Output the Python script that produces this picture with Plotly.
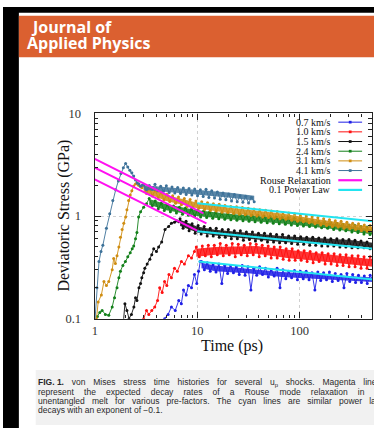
import numpy as np
import plotly.graph_objects as go

W, H = 374, 435

# ---------------- data ----------------
labels = ["0.7 km/s", "1.0 km/s", "1.5 km/s", "2.4 km/s", "3.1 km/s", "4.1 km/s"]
colors = ["#1f1fe6", "#ff1010", "#111111", "#13801a", "#cf8d12", "#3d7299"]

# early (rise) parts: explicit time / stress pairs
t07_rise = [4.6, 4.8, 5.2, 5.6, 6.1, 6.6, 7.0, 7.35, 7.8, 8.2, 8.8, 9.4, 9.9, 10.3, 10.7]
v07_rise = [0.09, 0.1, 0.11, 0.13, 0.12, 0.15, 0.14, 0.19, 0.17, 0.21, 0.2, 0.27, 0.22, 0.29, 0.36]
t10_rise = [2.9, 3.0, 3.2, 3.37, 3.6, 3.85, 4.1, 4.3, 4.55, 4.8, 5.05, 5.3, 5.6, 6.0, 6.4, 7.0, 7.5, 8.2, 8.8, 9.4]
v10_rise = [0.09, 0.1, 0.12, 0.11, 0.12, 0.13, 0.15, 0.2, 0.18, 0.23, 0.21, 0.27, 0.25, 0.31, 0.29, 0.36, 0.34, 0.41, 0.39, 0.45]
t15_rise = [1.9, 1.97, 2.06, 2.16, 2.28, 2.41, 2.5, 2.58, 2.7, 2.8, 2.88, 3.0, 3.08, 3.25, 3.45, 3.6,
            3.76, 4.0, 4.2, 4.5, 4.85, 5.26, 5.6, 6.0, 6.3, 6.6]
v15_rise = [0.09, 0.14, 0.12, 0.1, 0.11, 0.13, 0.16, 0.15, 0.2, 0.22, 0.25, 0.28, 0.31, 0.34, 0.38, 0.42,
            0.48, 0.45, 0.5, 0.56, 0.74, 0.79, 0.85, 0.87, 0.9, 0.88]
t24_rise = [1.0, 1.06, 1.12, 1.18, 1.27, 1.37, 1.48, 1.56, 1.65, 1.72, 1.78, 1.88, 1.99, 2.1, 2.22, 2.32,
            2.4, 2.5, 2.58, 2.68, 2.8, 3.0, 3.2]
v24_rise = [0.09, 0.105, 0.115, 0.12, 0.11, 0.108, 0.13, 0.16, 0.2, 0.25, 0.29, 0.33, 0.36, 0.4, 0.44, 0.48,
            0.51, 0.6, 0.69, 0.98, 1.1, 1.22, 1.32]
t31_rise = [1.0, 1.04, 1.08, 1.16, 1.23, 1.3, 1.37, 1.48, 1.53, 1.59, 1.65, 1.72, 1.78, 1.85, 1.92, 2.0,
            2.06, 2.14, 2.22, 2.3, 2.4, 2.5, 2.58, 2.68, 2.78, 2.88]
v31_rise = [0.08, 0.10, 0.145, 0.17, 0.23, 0.21, 0.23, 0.3, 0.385, 0.345, 0.41, 0.5, 0.62, 0.74, 0.85, 0.98,
            1.15, 1.42, 1.6, 1.76, 1.96, 2.05, 2.1, 2.0, 1.95, 1.89]
t41_rise = [1.0, 1.05, 1.1, 1.15, 1.2, 1.3, 1.4, 1.5, 1.6, 1.7, 1.8, 1.9, 2.0, 2.1, 2.2, 2.3, 2.4, 2.5,
            2.6, 2.7, 2.8, 2.9]
v41_rise = [0.09, 0.2, 0.36, 0.45, 0.52, 0.76, 1.05, 1.42, 1.8, 2.2, 2.6, 2.95, 3.25, 3.0, 2.8, 2.65,
            2.45, 2.25, 2.1, 2.05, 1.95, 2.0]

# later noisy bands: (first time, last time) of an evenly log-spaced sampling, and the values read
band_span = {"0.7": (11.0, 520.0), "1.0": (9.8, 520.0), "1.5": (6.8, 520.0),
             "2.4": (3.4, 520.0), "3.1": (3.0, 520.0), "4.1": (3.0, 36.0)}
v07_band = [0.36, 0.30, 0.35, 0.29, 0.34, 0.285, 0.34, 0.22, 0.33, 0.275, 0.33, 0.28, 0.32, 0.27, 0.33,
            0.265, 0.32, 0.19, 0.31, 0.265, 0.32, 0.27, 0.31, 0.255, 0.30, 0.26, 0.31, 0.20, 0.30, 0.245,
            0.29, 0.25, 0.295, 0.24, 0.29, 0.245, 0.29, 0.24, 0.28, 0.19, 0.285, 0.235, 0.28, 0.24,
            0.285, 0.23, 0.275, 0.235, 0.27, 0.20, 0.275, 0.23, 0.27, 0.225, 0.265, 0.225, 0.26, 0.22,
            0.265, 0.24]
v10_band = [0.50, 0.40, 0.51, 0.41, 0.52, 0.40, 0.52, 0.42, 0.54, 0.41, 0.52, 0.42, 0.54, 0.40, 0.53,
            0.42, 0.52, 0.41, 0.54, 0.42, 0.53, 0.40, 0.52, 0.41, 0.51, 0.39, 0.50, 0.39, 0.50, 0.38,
            0.48, 0.37, 0.48, 0.37, 0.46, 0.37, 0.46, 0.36, 0.45, 0.35, 0.44, 0.36, 0.44, 0.34, 0.43,
            0.34, 0.43, 0.33, 0.42, 0.33, 0.42, 0.32, 0.41, 0.32, 0.41, 0.31, 0.40, 0.31, 0.40, 0.35]
v15_band = [0.94, 0.76, 0.89, 0.72, 0.84, 0.68, 0.81, 0.67, 0.79, 0.64, 0.76, 0.64, 0.76, 0.62, 0.74,
            0.62, 0.74, 0.60, 0.72, 0.60, 0.72, 0.58, 0.70, 0.59, 0.70, 0.57, 0.68, 0.58, 0.68, 0.56,
            0.67, 0.56, 0.66, 0.55, 0.66, 0.55, 0.64, 0.54, 0.64, 0.53, 0.63, 0.53, 0.62, 0.52, 0.62,
            0.52, 0.61, 0.51, 0.61, 0.51, 0.60, 0.51, 0.60, 0.50, 0.59, 0.50, 0.59, 0.49, 0.58, 0.49,
            0.57, 0.49, 0.56, 0.48, 0.52]
v24_band = [1.48, 1.26, 1.40, 1.18, 1.33, 1.13, 1.29, 1.10, 1.25, 1.07, 1.22, 1.04, 1.20, 1.02, 1.17,
            1.00, 1.14, 0.98, 1.12, 0.97, 1.10, 0.95, 1.09, 0.94, 1.07, 0.93, 1.06, 0.92, 1.05, 0.91,
            1.04, 0.90, 1.03, 0.89, 1.02, 0.88, 1.01, 0.87, 1.00, 0.86, 0.99, 0.85, 0.98, 0.84, 0.97,
            0.83, 0.96, 0.82, 0.95, 0.81, 0.94, 0.80, 0.92, 0.79, 0.91, 0.78, 0.89, 0.77, 0.88, 0.76,
            0.86, 0.74, 0.85, 0.73, 0.83, 0.72, 0.82, 0.70, 0.81, 0.69, 0.79, 0.67, 0.78, 0.66, 0.71]
v31_band = [2.00, 1.66, 1.88, 1.57, 1.79, 1.50, 1.72, 1.43, 1.63, 1.39, 1.58, 1.33, 1.53, 1.29, 1.48,
            1.24, 1.45, 1.21, 1.40, 1.19, 1.38, 1.16, 1.35, 1.13, 1.32, 1.12, 1.30, 1.09, 1.27, 1.08,
            1.24, 1.06, 1.23, 1.04, 1.21, 1.03, 1.19, 1.01, 1.17, 1.00, 1.15, 0.98, 1.14, 0.97, 1.12,
            0.95, 1.11, 0.94, 1.08, 0.93, 1.07, 0.91, 1.05, 0.89, 1.03, 0.88, 1.00, 0.86, 0.98, 0.84,
            0.96, 0.82, 0.94, 0.81, 0.92, 0.79, 0.90, 0.78, 0.89, 0.76, 0.87, 0.75, 0.85, 0.74, 0.84,
            0.72, 0.82, 0.71, 0.81, 0.70]
v41_band = [2.02, 1.80, 1.98, 1.82, 2.04, 1.76, 1.95, 1.74, 1.97, 1.70, 1.92, 1.68, 1.90, 1.66, 1.88,
            1.62, 1.86, 1.60, 1.84, 1.58, 1.80, 1.55, 1.82, 1.52, 1.76, 1.50, 1.72, 1.46, 1.68, 1.44,
            1.64, 1.40, 1.62, 1.38, 1.58, 1.36, 1.56, 1.34, 1.52, 1.38]

# dense core of each band (where the many samples overlap): time knots, lower and upper stress
core_t = [[11, 15, 33, 67, 178, 520],
          [9.8, 15, 38, 75, 150, 520],
          [6.8, 10, 15, 67, 310, 520],
          [3.4, 5, 10, 20, 67, 200, 520],
          [3.0, 5, 10, 20, 67, 150, 520],
          [3.0, 5, 10, 20, 36]]
core_lo = [[0.31, 0.29, 0.275, 0.255, 0.24, 0.228],
           [0.40, 0.42, 0.43, 0.39, 0.365, 0.32],
           [0.80, 0.69, 0.645, 0.56, 0.515, 0.49],
           [1.29, 1.14, 1.00, 0.93, 0.845, 0.75, 0.66],
           [1.72, 1.40, 1.19, 1.07, 0.94, 0.83, 0.70],
           [1.80, 1.72, 1.62, 1.52, 1.42]]
core_hi = [[0.35, 0.33, 0.305, 0.285, 0.27, 0.252],
           [0.48, 0.50, 0.51, 0.47, 0.435, 0.38],
           [0.92, 0.79, 0.735, 0.64, 0.585, 0.55],
           [1.47, 1.30, 1.14, 1.05, 0.955, 0.85, 0.74],
           [1.98, 1.60, 1.35, 1.21, 1.06, 0.93, 0.78],
           [2.00, 1.92, 1.82, 1.70, 1.58]]

rise_t = [t07_rise, t10_rise, t15_rise, t24_rise, t31_rise, t41_rise]
rise_v = [v07_rise, v10_rise, v15_rise, v24_rise, v31_rise, v41_rise]
band_v = [v07_band, v10_band, v15_band, v24_band, v31_band, v41_band]
band_keys = ["0.7", "1.0", "1.5", "2.4", "3.1", "4.1"]

# guide lines: end points (t, stress)
rouse_t = [[1.0, 11.5], [1.0, 12.3], [1.0, 10.0]]
rouse_v = [[3.6, 1.06], [2.96, 0.85], [2.28, 0.72]]
power_t = [[10.0, 520.0], [10.0, 520.0], [10.3, 520.0]]
power_v = [[1.33, 0.89], [0.71, 0.48], [0.36, 0.24]]
rouse_color = "#ff10f0"
power_color = "#22e4f0"

x_major = [1, 10, 100]
x_minor = [2, 3, 4, 5, 6, 7, 8, 9, 20, 30, 40, 50, 60, 70, 80, 90, 200, 300, 400, 500]
y_major = [0.1, 1, 10]
y_minor = [0.2, 0.3, 0.4, 0.5, 0.6, 0.7, 0.8, 0.9, 2, 3, 4, 5, 6, 7, 8, 9]

# ---------------- helpers ----------------
def px(x):
    return x / W


def py(y):
    return 1 - y / H


serif = "Liberation Serif"
sans = "Liberation Sans"

fig = go.Figure()

for k in range(6):
    t0, t1 = band_span[band_keys[k]]
    tb = np.geomspace(t0, t1, len(band_v[k]))
    # dense core of the band
    fig.add_trace(go.Scatter(
        x=list(core_t[k]) + list(core_t[k])[::-1],
        y=list(core_hi[k]) + list(core_lo[k])[::-1],
        mode="lines", fill="toself", fillcolor=colors[k], opacity=0.85,
        line=dict(color=colors[k], width=0), showlegend=False, hoverinfo="skip"))
    xs = list(rise_t[k]) + list(tb)
    ys = list(rise_v[k]) + list(band_v[k])
    fig.add_trace(go.Scatter(
        x=xs, y=ys, mode="lines+markers",
        line=dict(color=colors[k], width=0.9),
        marker=dict(size=3, color=colors[k]),
        showlegend=False, hoverinfo="skip"))

for tt, vv in zip(rouse_t, rouse_v):
    fig.add_trace(go.Scatter(x=tt, y=vv, mode="lines", line=dict(color=rouse_color, width=2),
                             showlegend=False, hoverinfo="skip"))
for tt, vv in zip(power_t, power_v):
    fig.add_trace(go.Scatter(x=tt, y=vv, mode="lines", line=dict(color=power_color, width=2),
                             showlegend=False, hoverinfo="skip"))

axis_common = dict(
    type="log", showline=True, linecolor="#222", linewidth=1.3, mirror="ticks",
    ticks="inside", ticklen=6, tickcolor="#222", tickwidth=1,
    showgrid=True, gridcolor="#d0d0d0", griddash="dot", gridwidth=1,
    zeroline=False, tickfont=dict(family=serif, size=12.5, color="#333"),
)

fig.update_xaxes(**axis_common, range=[0, 2.706], domain=[px(92.5), px(372)],
                 tickmode="array", tickvals=x_major, ticktext=[str(v) for v in x_major],
                 minor=dict(tickvals=x_minor, ticks="inside", ticklen=3.5, tickcolor="#222",
                            showgrid=False))
fig.update_yaxes(**axis_common, range=[-1, 1], domain=[py(322), py(110)],
                 tickmode="array", tickvals=y_major, ticktext=["0.1", "1", "10"],
                 ticklabelstandoff=10,
                 minor=dict(tickvals=y_minor, ticks="inside", ticklen=3.5, tickcolor="#222",
                            showgrid=False))

shapes = []
ann = []

# page decorations
shapes.append(dict(type="rect", xref="paper", yref="paper", x0=px(0), x1=px(16), y0=py(0), y1=py(H),
                   fillcolor="#000", line_width=0, layer="below"))
shapes.append(dict(type="rect", xref="paper", yref="paper", x0=px(0), x1=px(W), y0=py(0), y1=py(6),
                   fillcolor="#000", line_width=0, layer="below"))
shapes.append(dict(type="rect", xref="paper", yref="paper", x0=px(16), x1=px(W), y0=py(9), y1=py(52),
                   fillcolor="#db6030", line_width=0, layer="below"))
shapes.append(dict(type="rect", xref="paper", yref="paper", x0=px(33), x1=px(W), y0=py(375), y1=py(432),
                   fillcolor="#f1f1f1", line_width=0, layer="below"))

ann.append(dict(text="<b>Journal of</b>", x=px(26), y=py(21), xanchor="left", yanchor="middle",
                showarrow=False, xref="paper", yref="paper",
                font=dict(family="Open Sans", size=16, color="white")))
ann.append(dict(text="<b>Applied Physics</b>", x=px(22), y=py(37.5), xanchor="left", yanchor="middle",
                showarrow=False, xref="paper", yref="paper",
                font=dict(family="Open Sans", size=16, color="white")))

# axis titles
ann.append(dict(text="Deviatoric Stress (GPa)", x=px(62), y=py(216), textangle=-90,
                xanchor="center", yanchor="middle", showarrow=False, xref="paper", yref="paper",
                font=dict(family=serif, size=16, color="#111")))
ann.append(dict(text="Time (ps)", x=px(231), y=py(350), xanchor="center", yanchor="middle",
                showarrow=False, xref="paper", yref="paper",
                font=dict(family=serif, size=16, color="#111")))

# legend (text on the left, sample on the right)
leg_labels = labels + ["Rouse Relaxation", "0.1 Power Law"]
leg_colors = colors + [rouse_color, power_color]
for i, (lab, col) in enumerate(zip(leg_labels, leg_colors)):
    yy = 119 + i * 10.0
    ann.append(dict(text=lab, x=px(333), y=py(yy), xanchor="right", yanchor="middle",
                    showarrow=False, xref="paper", yref="paper",
                    font=dict(family=serif, size=10, color="#111")))
    lw = 1 if i < 6 else 2.2
    shapes.append(dict(type="line", xref="paper", yref="paper", x0=px(338), x1=px(362),
                       y0=py(yy), y1=py(yy), line=dict(color=col, width=lw)))
    if i < 6:
        shapes.append(dict(type="rect", xref="paper", yref="paper", x0=px(348.6), x1=px(351.4),
                           y0=py(yy - 1.4), y1=py(yy + 1.4), fillcolor=col, line_width=0))

# caption (justified lines imitated with widened word gaps)
cap_words = [
    ["<b>FIG. 1.</b>", "von", "Mises", "stress", "time", "histories", "for", "several", "u<sub>p</sub>",
     "shocks.", "Magenta", "lines"],
    ["represent", "the", "expected", "decay", "rates", "of", "a", "Rouse", "mode", "relaxation", "in", "an"],
    ["unentangled", "melt", "for", "various", "pre-factors.", "The", "cyan", "lines", "are", "similar",
     "power", "law"],
    ["decays", "with", "an", "exponent", "of", "\u22120.1."],
]
cap_gaps = ["\u00a0\u00a0\u00a0\u200a", "\u00a0\u00a0\u00a0\u00a0\u200a", "\u00a0\u00a0\u00a0", "\u00a0"]
for i, words in enumerate(cap_words):
    line = cap_gaps[i].join(words)
    ann.append(dict(text=line, x=px(33), y=py(388 + i * 9.6), xanchor="left", yanchor="middle",
                    showarrow=False, xref="paper", yref="paper", align="left",
                    font=dict(family=sans, size=8.5, color="#2a2a2a")))

fig.update_layout(
    width=W, height=H, margin=dict(l=0, r=0, t=0, b=0),
    paper_bgcolor="white", plot_bgcolor="white",
    shapes=shapes, annotations=ann, showlegend=False,
)

fig.write_html("out.html")
